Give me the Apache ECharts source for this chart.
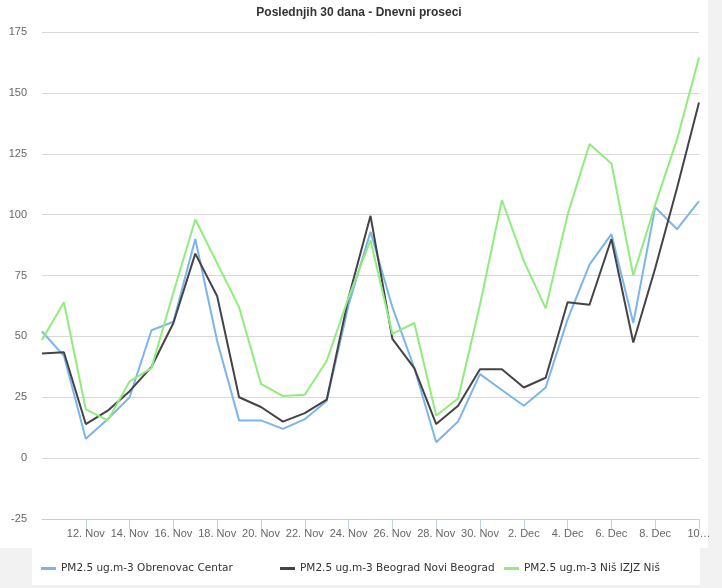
<!DOCTYPE html>
<html>
<head>
<meta charset="utf-8">
<script src="https://cdn.jsdelivr.net/npm/echarts@6/dist/echarts.min.js"></script>
<style>
  html, body { margin: 0; padding: 0; background: #f2f2f2; }
  #wrap { position: relative; width: 722px; height: 588px; overflow: hidden; }
  .bg1 { position: absolute; left: 0; top: 0; width: 708px; height: 548px; background: #fff; }
  .bg2 { position: absolute; left: 32px; top: 548px; width: 668px; height: 37px; background: #fff; }
  #chart { position: absolute; left: 0; top: 0; width: 722px; height: 588px; }
</style>
</head>
<body>
<div id="wrap">
  <div class="bg1"></div>
  <div class="bg2"></div>
  <div id="chart"></div>
</div>
<script>
const titleText = 'Poslednjih 30 dana - Dnevni proseci';
const categories = [
  '10. Nov','11. Nov','12. Nov','13. Nov','14. Nov','15. Nov','16. Nov','17. Nov','18. Nov','19. Nov',
  '20. Nov','21. Nov','22. Nov','23. Nov','24. Nov','25. Nov','26. Nov','27. Nov','28. Nov','29. Nov',
  '30. Nov','1. Dec','2. Dec','3. Dec','4. Dec','5. Dec','6. Dec','7. Dec','8. Dec','9. Dec','10. Dec'
];
const seriesNames = [
  'PM2.5 ug.m-3 Obrenovac Centar',
  'PM2.5 ug.m-3 Beograd Novi Beograd',
  'PM2.5 ug.m-3 Niš IZJZ Niš'
];
const obrenovac = [52, 42, 8, 16, 25, 52.5, 56, 90, 48, 15.5, 15.5, 12, 16, 23.5, 63, 93, 62, 37, 6.5, 15, 34.5, 28, 21.5, 29, 57, 79.5, 92, 55.5, 103, 94, 105.5];
const noviBeograd = [43, 43.5, 14, 19.5, 27.5, 37.5, 55.5, 84, 66.5, 25, 21, 15, 18.5, 24, 66, 99.5, 49, 37, 14, 21.5, 36.5, 36.5, 29, 33, 64, 63, 90, 47.5, 78, 111, 146];
const nis = [48.5, 64, 20, 15.5, 31.5, 37, 68, 98, 80, 62, 30.5, 25.5, 26, 40, 66, 89.5, 51, 55.5, 17.5, 24.5, 63, 106, 81, 61.5, 100, 129, 121, 75, 104, 131, 164.5];
const yMin = -25, yMax = 175, yStep = 25;

const colors = ['#7cb5ec', '#434348', '#90ed7d'];
const sans = "'Liberation Sans', Arial, sans-serif";
const legendFont = "'DejaVu Sans', Verdana, sans-serif";
const showIdx = (i) => i > 0 && i % 2 === 0;

const chart = echarts.init(document.getElementById('chart'), null, { renderer: 'canvas' });
const legendLefts = [36, 275, 499];
chart.setOption({
  animation: false,
  backgroundColor: 'transparent',
  color: colors,
  title: {
    text: titleText,
    left: 354, top: 2, textAlign: 'center',
    textStyle: { fontFamily: sans, fontSize: 12, fontWeight: 'bold', color: '#333' }
  },
  legend: seriesNames.map((n, i) => ({
    data: [n],
    left: legendLefts[i], top: 558,
    icon: 'rect', itemWidth: 15, itemHeight: 3,
    textStyle: { fontFamily: legendFont, fontSize: 10.5, color: '#333' },
    selectedMode: false
  })),
  grid: { left: 42, right: 23, top: 32, bottom: 69 },
  xAxis: {
    type: 'category',
    data: categories,
    boundaryGap: false,
    axisLine: { onZero: false, lineStyle: { color: '#c0d0e0', width: 1 } },
    axisTick: { show: true, interval: (i) => showIdx(i), length: 10, lineStyle: { color: '#c0d0e0' } },
    axisLabel: {
      interval: (i) => showIdx(i),
      margin: 9,
      fontFamily: sans, fontSize: 11, color: '#666',
      formatter: (v, i) => i === categories.length - 1 ? v.slice(0, 2) + '…' : v
    },
    splitLine: { show: false }
  },
  yAxis: {
    type: 'value',
    min: yMin, max: yMax, interval: yStep,
    axisLine: { show: false },
    axisTick: { show: false },
    axisLabel: { margin: 15, fontFamily: sans, fontSize: 11, color: '#666' },
    splitLine: { lineStyle: { color: '#d8d8d8', width: 1 } }
  },
  series: [obrenovac, noviBeograd, nis].map((d, i) => ({
    name: seriesNames[i],
    type: 'line',
    data: d,
    symbol: 'none',
    lineStyle: { width: 2, color: colors[i] },
    itemStyle: { color: colors[i] }
  }))
});
</script>
</body>
</html>
